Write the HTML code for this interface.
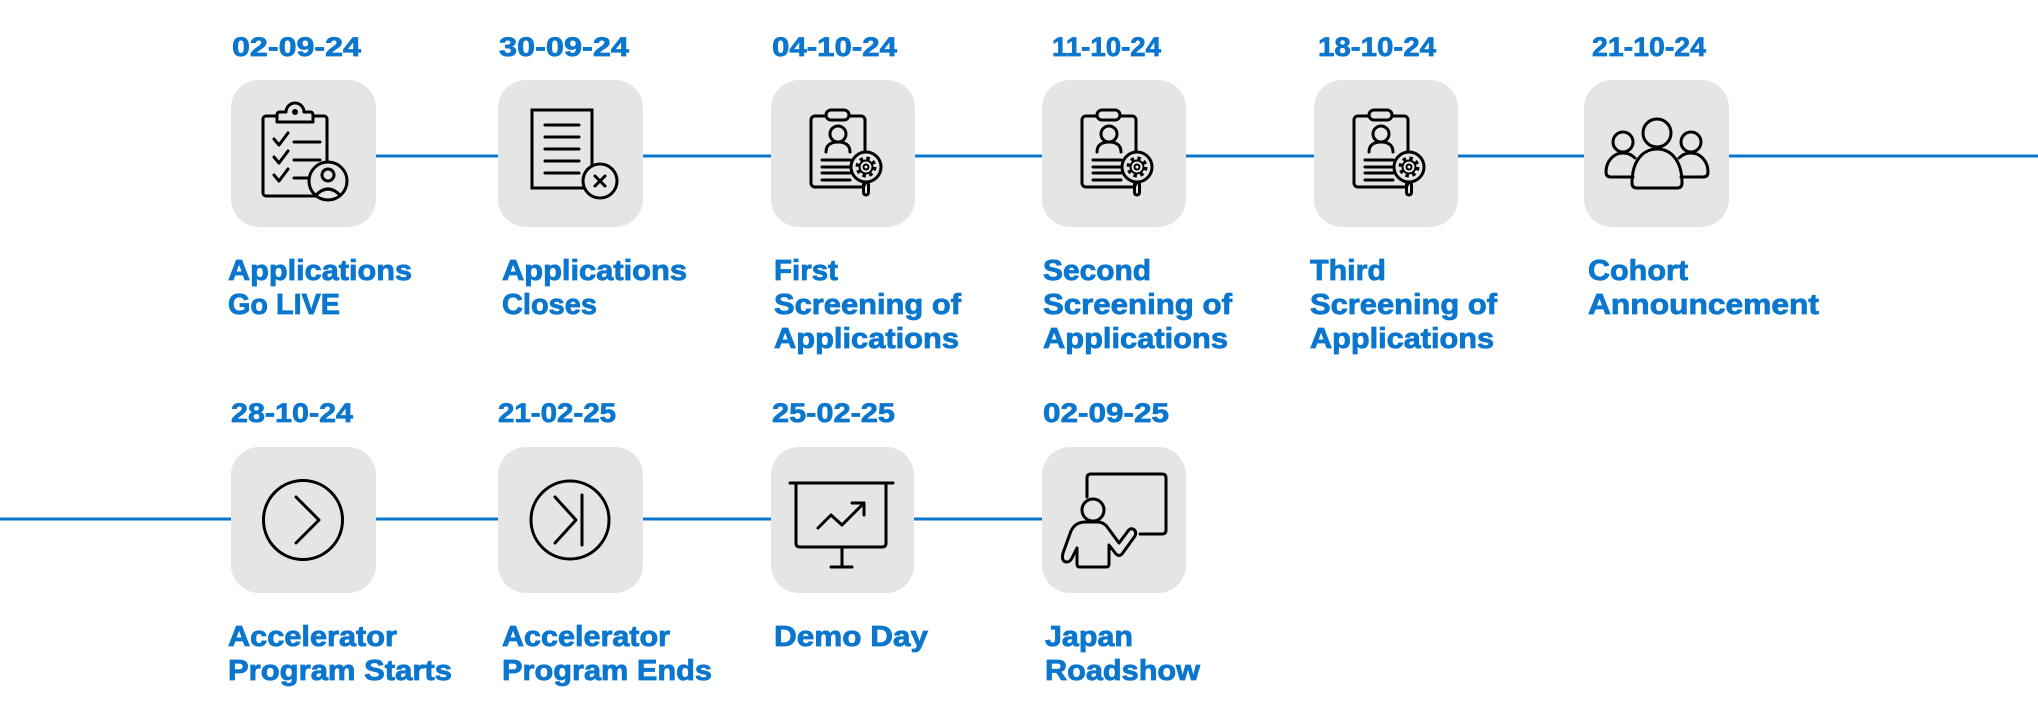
<!DOCTYPE html>
<html>
<head>
<meta charset="utf-8">
<style>
  html, body { margin: 0; padding: 0; background: #ffffff; }
  svg { display: block; }
  .d { font-family: "Liberation Sans", sans-serif; font-weight: bold; font-size: 27px; fill: #0a76cd; stroke: #0a76cd; stroke-width: 0.7; }
  .l { font-family: "Liberation Sans", sans-serif; font-weight: bold; font-size: 29px; fill: #0a76cd; stroke: #0a76cd; stroke-width: 0.8; }
  .ic { fill: none; stroke: #000; stroke-width: 3; stroke-linecap: round; stroke-linejoin: round; }
  .bx { fill: #e5e5e5; }
</style>
</head>
<body>
<svg width="2038" height="712" viewBox="0 0 2038 712" xmlns="http://www.w3.org/2000/svg">
  <!-- connector lines -->
  <line x1="376" y1="156" x2="2038" y2="156" stroke="#0a76cd" stroke-width="3"/>
  <line x1="0" y1="519" x2="1042" y2="519" stroke="#0a76cd" stroke-width="3"/>

  <!-- Row 1 boxes -->
  <rect class="bx" x="231" y="80" width="145" height="147" rx="28"/>
  <rect class="bx" x="498" y="80" width="145" height="147" rx="28"/>
  <rect class="bx" x="771" y="80" width="144" height="147" rx="28"/>
  <rect class="bx" x="1042" y="80" width="144" height="147" rx="28"/>
  <rect class="bx" x="1314" y="80" width="144" height="147" rx="28"/>
  <rect class="bx" x="1584" y="80" width="145" height="147" rx="28"/>

  <!-- Row 2 boxes -->
  <rect class="bx" x="231" y="447" width="145" height="146" rx="28"/>
  <rect class="bx" x="498" y="447" width="145" height="146" rx="28"/>
  <rect class="bx" x="771" y="447" width="143" height="146" rx="28"/>
  <rect class="bx" x="1042" y="447" width="144" height="146" rx="28"/>

  <!-- Icon 1: clipboard with checks and person -->
  <g class="ic">
    <rect x="263" y="116" width="64" height="80" rx="3"/>
    <path d="M277,122 V115 Q277,112 280,112 H286 A9,9 0 0 1 304,112 H310 Q313,112 313,115 V122 Z" fill="#e5e5e5"/>
    <circle cx="295" cy="112" r="1.5" fill="#000"/>
    <path d="M274,139 L279,145 L288,133"/>
    <path d="M274,157 L279,163 L288,151"/>
    <path d="M274,175 L279,181 L288,169"/>
    <path d="M294,142 H320"/>
    <path d="M294,160 H320"/>
    <path d="M294,178 H309"/>
    <circle cx="328" cy="181" r="19" fill="#e5e5e5"/>
    <circle cx="328" cy="175" r="6"/>
    <path d="M316,195 Q328,183 340,195"/>
  </g>

  <!-- Icon 2: document with x -->
  <g class="ic">
    <path d="M532,110 H592 V188 H532 Z" stroke-linecap="square" stroke-linejoin="miter"/>
    <path d="M545,125 H579 M545,137 H579 M545,149 H579 M545,161 H579 M545,173 H579"/>
    <circle cx="600" cy="181" r="17" fill="#e5e5e5"/>
    <path d="M595,176 L605,186 M605,176 L595,186"/>
  </g>

  <!-- Icon 3/4/5: badge with magnifier gear -->
  <defs>
    <g id="badge">
      <rect x="40" y="36" width="54" height="71" rx="4"/>
      <rect x="55" y="30" width="23" height="10" rx="5" fill="#e5e5e5"/>
      <circle cx="67" cy="54" r="8"/>
      <path d="M55,72 C55,65 60,62 67,62 C74,62 79,65 79,72"/>
      <path d="M51,80 H79 M51,87 H79 M51,93 H79 M51,100 H79"/>
      <circle cx="95" cy="87" r="15" fill="#e5e5e5"/>
      <circle cx="95" cy="87" r="8.5" stroke-width="4" stroke-dasharray="3.3 3.4" stroke-linecap="butt"/>
      <circle cx="95" cy="87" r="6.5" stroke-width="2"/>
      <circle cx="95" cy="87" r="2.5" stroke-width="2"/>
      <rect x="92.5" y="102" width="5" height="13" rx="2.5"/>
    </g>
  </defs>
  <g class="ic">
    <use href="#badge" transform="translate(771,80)"/>
    <use href="#badge" transform="translate(1042,80)"/>
    <use href="#badge" transform="translate(1314,80)"/>
  </g>

  <!-- Icon 6: group of people -->
  <g class="ic" transform="translate(1584,80)">
    <circle cx="73" cy="53" r="14"/>
    <circle cx="39" cy="62" r="10"/>
    <circle cx="107" cy="62" r="10"/>
    <path d="M51,78 C48,75 44,73 39,73 C29,73 22,82 22,92 Q22,97 27,97 H49"/>
    <path d="M95,78 C98,75 102,73 107,73 C117,73 124,82 124,92 Q124,97 119,97 H97"/>
    <path d="M48,103 C48,82 58,69 73,69 C88,69 98,82 98,103 Q98,108 93,108 H53 Q48,108 48,103 Z"/>
  </g>

  <!-- Icon 7: circle chevron -->
  <g class="ic">
    <circle cx="303" cy="520" r="39.5"/>
    <path d="M296,497 L319,520 L296,543"/>
  </g>

  <!-- Icon 8: circle skip -->
  <g class="ic">
    <circle cx="570" cy="520" r="39"/>
    <path d="M555,497 L576,520 L555,543"/>
    <path d="M582,495 V545"/>
  </g>

  <!-- Icon 9: presentation board -->
  <g class="ic">
    <path d="M790,483 H893"/>
    <path d="M796,483 V543 Q796,547 800,547 H882 Q886,547 886,543 V483"/>
    <path d="M842,547 V567 M831,567 H852"/>
    <path d="M818,528 L831,515 L842,525 L864,503"/>
    <path d="M852,503 H864 V515"/>
  </g>

  <!-- Icon 10: teacher at board -->
  <g class="ic">
    <path d="M1087,497 V478 Q1087,474 1091,474 H1162 Q1166,474 1166,478 V530 Q1166,534 1162,534 H1140"/>
    <circle cx="1093" cy="510" r="11"/>
    <path d="M1086,522 C1078,522 1074,525 1071,531 L1063,553 Q1061,562 1067,562 Q1070,562 1072,558 L1077,548 V564 Q1077,567 1080,567 H1106 Q1109,567 1109,564 V545 L1116,554 Q1119,557 1122,554 L1135,536 Q1137,531 1133,529 Q1130,528 1128,531 L1119,543 L1108,528 Q1104,522 1098,522 Z"/>
  </g>

  <!-- Dates row 1 -->
  <text class="d" x="232" y="56" textLength="129" lengthAdjust="spacingAndGlyphs">02-09-24</text>
  <text class="d" x="499" y="56" textLength="130" lengthAdjust="spacingAndGlyphs">30-09-24</text>
  <text class="d" x="772" y="56" textLength="125" lengthAdjust="spacingAndGlyphs">04-10-24</text>
  <text class="d" x="1052" y="56" textLength="109" lengthAdjust="spacingAndGlyphs">11-10-24</text>
  <text class="d" x="1318" y="56" textLength="118" lengthAdjust="spacingAndGlyphs">18-10-24</text>
  <text class="d" x="1592" y="56" textLength="114" lengthAdjust="spacingAndGlyphs">21-10-24</text>

  <!-- Dates row 2 -->
  <text class="d" x="231" y="422" textLength="122" lengthAdjust="spacingAndGlyphs">28-10-24</text>
  <text class="d" x="498" y="422" textLength="118" lengthAdjust="spacingAndGlyphs">21-02-25</text>
  <text class="d" x="772" y="422" textLength="123" lengthAdjust="spacingAndGlyphs">25-02-25</text>
  <text class="d" x="1043" y="422" textLength="126" lengthAdjust="spacingAndGlyphs">02-09-25</text>

  <!-- Labels row 1 -->
  <text class="l" x="228" y="280" textLength="184" lengthAdjust="spacingAndGlyphs">Applications</text>
  <text class="l" x="228" y="314" textLength="112" lengthAdjust="spacingAndGlyphs">Go LIVE</text>

  <text class="l" x="502" y="280" textLength="185" lengthAdjust="spacingAndGlyphs">Applications</text>
  <text class="l" x="502" y="314" textLength="95" lengthAdjust="spacingAndGlyphs">Closes</text>

  <text class="l" x="774" y="280" textLength="64" lengthAdjust="spacingAndGlyphs">First</text>
  <text class="l" x="774" y="314" textLength="187" lengthAdjust="spacingAndGlyphs">Screening of</text>
  <text class="l" x="774" y="348" textLength="185" lengthAdjust="spacingAndGlyphs">Applications</text>

  <text class="l" x="1043" y="280" textLength="108" lengthAdjust="spacingAndGlyphs">Second</text>
  <text class="l" x="1043" y="314" textLength="189" lengthAdjust="spacingAndGlyphs">Screening of</text>
  <text class="l" x="1043" y="348" textLength="185" lengthAdjust="spacingAndGlyphs">Applications</text>

  <text class="l" x="1310" y="280" textLength="76" lengthAdjust="spacingAndGlyphs">Third</text>
  <text class="l" x="1310" y="314" textLength="187" lengthAdjust="spacingAndGlyphs">Screening of</text>
  <text class="l" x="1310" y="348" textLength="184" lengthAdjust="spacingAndGlyphs">Applications</text>

  <text class="l" x="1588" y="280" textLength="100" lengthAdjust="spacingAndGlyphs">Cohort</text>
  <text class="l" x="1588" y="314" textLength="231" lengthAdjust="spacingAndGlyphs">Announcement</text>

  <!-- Labels row 2 -->
  <text class="l" x="228" y="646" textLength="169" lengthAdjust="spacingAndGlyphs">Accelerator</text>
  <text class="l" x="228" y="680" textLength="224" lengthAdjust="spacingAndGlyphs">Program Starts</text>

  <text class="l" x="502" y="646" textLength="168" lengthAdjust="spacingAndGlyphs">Accelerator</text>
  <text class="l" x="502" y="680" textLength="210" lengthAdjust="spacingAndGlyphs">Program Ends</text>

  <text class="l" x="774" y="646" textLength="154" lengthAdjust="spacingAndGlyphs">Demo Day</text>

  <text class="l" x="1045" y="646" textLength="88" lengthAdjust="spacingAndGlyphs">Japan</text>
  <text class="l" x="1045" y="680" textLength="155" lengthAdjust="spacingAndGlyphs">Roadshow</text>
</svg>
</body>
</html>
